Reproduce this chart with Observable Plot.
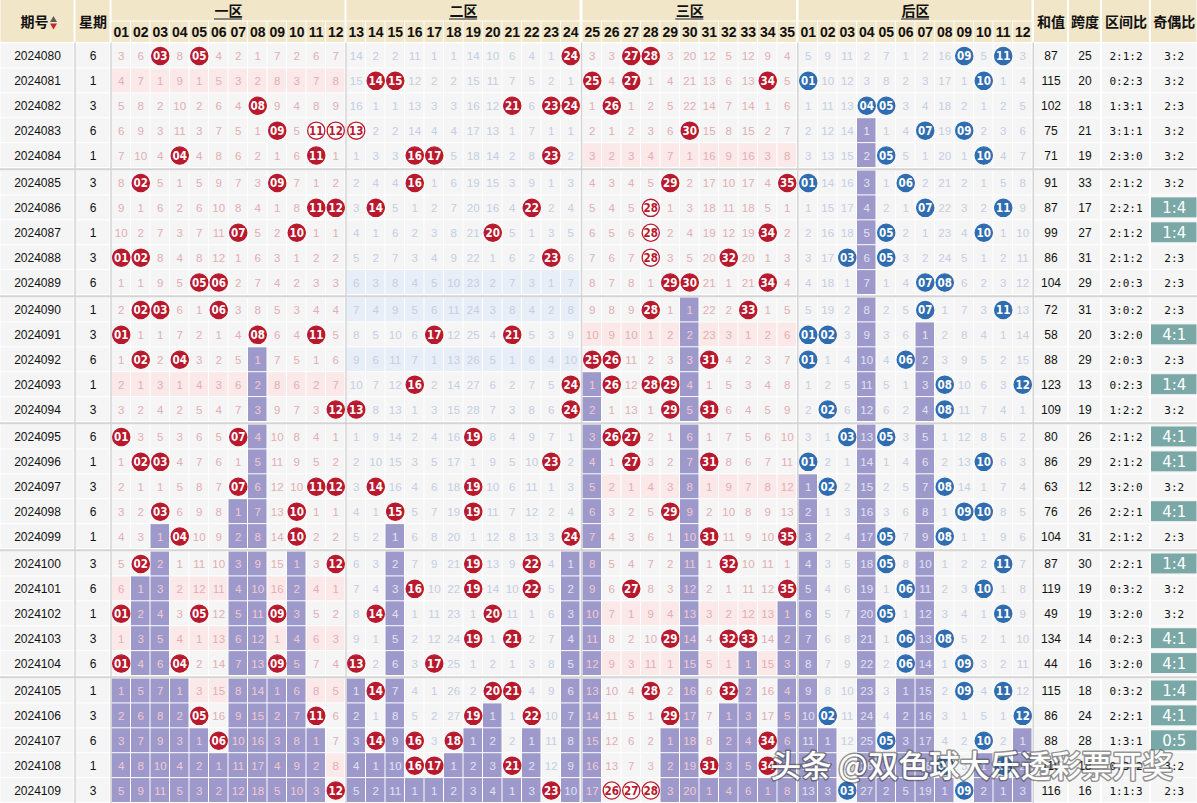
<!DOCTYPE html>
<html><head><meta charset="utf-8">
<script src="https://cdn.jsdelivr.net/npm/d3@7"></script>
<script src="https://cdn.jsdelivr.net/npm/@observablehq/plot@0.6"></script>
<style>
html,body{margin:0;padding:0;background:#fff;}
#chart{width:1197px;height:803px;overflow:hidden;}
</style></head>
<body><div id="chart"></div>
<script>
// ---------------- DATA ----------------
const issues = ["2024080","2024081","2024082","2024083","2024084","2024085","2024086","2024087","2024088","2024089",
  "2024090","2024091","2024092","2024093","2024094","2024095","2024096","2024097","2024098","2024099",
  "2024100","2024101","2024102","2024103","2024104","2024105","2024106","2024107","2024108","2024109"];
const weekdays = [6,1,3,6,1, 3,6,1,3,6, 1,3,6,1,3, 6,1,3,6,1, 3,6,1,3,6, 1,3,6,1,3];
const frontDraws = [
  [3,5,24,27,28],[14,15,25,27,34],[8,21,23,24,26],[9,11,12,13,30],[4,11,16,17,23],
  [2,9,16,29,35],[11,12,14,22,28],[7,10,20,28,34],[1,2,23,28,32],[5,6,29,30,34],
  [2,3,6,28,33],[1,8,11,17,21],[2,4,25,26,31],[16,24,26,28,29],[12,13,24,29,31],
  [1,7,19,26,27],[2,3,23,27,31],[7,11,12,14,19],[3,10,15,19,29],[4,10,24,31,35],
  [2,12,19,22,32],[16,19,22,27,35],[1,5,9,14,20],[19,21,29,32,33],[1,4,9,13,17],
  [14,20,21,28,32],[5,11,19,22,29],[6,14,16,18,34],[16,17,21,31,34],[12,23,26,27,28]];
const backDraws = [
  [9,11],[1,10],[4,5],[7,9],[5,10],
  [1,6],[7,11],[5,10],[3,5],[7,8],
  [7,11],[1,2],[1,6],[8,12],[2,8],
  [3,5],[1,10],[2,8],[9,10],[5,8],
  [5,11],[6,10],[5,11],[6,8],[6,9],
  [9,11],[2,12],[5,10],[8,11],[3,9]];
// omission values shown in the first row (2024080); 0 = drawn in that issue
const frontFirstOmission = [3,6,0,8,0,4,2,1,7,2,6,7, 14,2,2,11,1,1,14,10,6,4,1,0, 3,3,0,0,3,20,12,5,12,9,4];
const backFirstOmission = [5,9,11,2,7,1,2,16,0,5,0,3];
const sums = [87,115,102,75,71, 91,87,99,86,104, 72,58,88,123,109, 80,86,63,76,104, 87,119,49,134,44, 115,86,88,119,116];
const spans = [25,20,18,21,19, 33,17,27,31,29, 31,20,29,13,19, 26,29,12,26,31, 30,19,19,14,16, 18,24,28,18,16];
const zoneRatios = ["2:1:2","0:2:3","1:3:1","3:1:1","2:3:0","2:1:2","2:2:1","2:1:2","2:1:2","2:0:3",
  "3:0:2","3:2:0","2:0:3","0:2:3","1:2:2","2:1:2","2:1:2","3:2:0","2:2:1","2:1:2",
  "2:2:1","0:3:2","3:2:0","0:2:3","3:2:0","0:3:2","2:2:1","1:3:1","0:3:2","1:1:3"];
const oddEven = ["3:2","3:2","2:3","3:2","3:2","3:2","1:4","1:4","2:3","2:3",
  "2:3","4:1","2:3","1:4","3:2","4:1","4:1","3:2","4:1","2:3",
  "1:4","3:2","3:2","4:1","4:1","1:4","4:1","0:5","3:2","2:3"];
const frontLabels = ["01","02","03","04","05","06","07","08","09","10","11","12",
  "13","14","15","16","17","18","19","20","21","22","23","24",
  "25","26","27","28","29","30","31","32","33","34","35"];
const backLabels = ["01","02","03","04","05","06","07","08","09","10","11","12"];
const zoneNames = ["一区","二区","三区","后区"];
const headLeft = ["期号","星期"];
const headRight = ["和值","跨度","区间比","奇偶比"];
const extremeOddEven = ["0:5","1:4","4:1","5:0"];
const watermark = "头条 @双色球大乐透彩票开奖";

// ---------------- LAYOUT / STYLE (not data) ----------------
const W = 1197, H = 803;
const CW = 19.5, RH = 24.9, GAP = 2.5, TOP = 43;
const zoneX0 = [111, 346, 582, 798];
const zoneLen = [12, 12, 11, 12];
const leftCols = [[0, 74], [75, 110]];
const rightCols = [[1033.5, 1067.5], [1068.5, 1100.5], [1101.5, 1149.5], [1150.5, 1197]];
const C = {cell:"#f5f5f5", head:"#f1e6c8", purple:"#9d9acb", pinkZ:"#fbe9e9", blueZ:"#e8eef7",
  red:"#b8192d", blue:"#2f6cb0", teal:"#7aa8a6", sep:"#d4d4d4",
  tPink:"#e2aeb2", tPinkP:"#f3c9d1", tBlue:"#c3cee2", tBlueP:"#e2e2f4"};
const NUMFONT = "'Liberation Sans', Arial, sans-serif";
const CJK = "'Noto Sans CJK SC', 'Noto Sans', sans-serif";

const rowTop = i => TOP + i * RH + Math.floor(i / 5) * GAP;
const zoneOf = n => n <= 12 ? 0 : n <= 24 ? 1 : 2;
const colX0 = (z, idx) => zoneX0[z] + idx * CW;

// omission matrices derived from the draws (chart logic: issues since last hit)
function omissionRows(draws, first) {
  const out = [first.slice()];
  for (let i = 1; i < draws.length; i++)
    out.push(out[i - 1].map((v, k) => draws[i].includes(k + 1) ? 0 : v + 1));
  return out;
}
const frontOm = omissionRows(frontDraws, frontFirstOmission);
const backOm = omissionRows(backDraws, backFirstOmission);
const lastHit = (draws, n) => { let l = -1; draws.forEach((d, i) => { if (d.includes(n)) l = i; }); return l; };
function hollow(draws, i, n) {
  let a = n, b = n; const d = draws[i];
  while (d.includes(a - 1)) a--; while (d.includes(b + 1)) b++;
  if (b - a + 1 >= 3) return true;
  let u = i, v = i;
  while (u > 0 && draws[u - 1].includes(n)) u--; while (v < draws.length - 1 && draws[v + 1].includes(n)) v++;
  return v - u + 1 >= 3;
}

// ---------------- build mark tables ----------------
const cells = [], balls = [], omTexts = [];
issues.forEach((iss, i) => {
  const y1 = rowTop(i), y2 = y1 + RH, cy = y1 + RH / 2;
  const zc = [0, 0, 0]; frontDraws[i].forEach(n => zc[zoneOf(n)]++);
  const addCell = (x1, z, n, drawn, om, isBack, label, draws) => {
    const last = lastHit(draws, n);
    const purple = i > last;
    let fill = C.cell;
    if (purple) fill = C.purple;
    else if (!isBack && zc[z] === 0) fill = z === 1 ? C.blueZ : C.pinkZ;
    cells.push({x1: x1 + 0.5, x2: x1 + CW - 0.5, y1: y1 + 0.5, y2: y2 - 0.5, fill});
    const cx = x1 + CW / 2;
    if (drawn) {
      const h = hollow(draws, i, n);
      const col = isBack ? C.blue : C.red;
      balls.push({x: cx, y: cy, label, fill: h ? "#ffffff" : col, stroke: col, text: h ? col : "#ffffff"});
    } else {
      const blueText = isBack || z === 1;
      omTexts.push({x: cx, y: cy + 0.5, t: String(om),
        fill: blueText ? (purple ? C.tBlueP : C.tBlue) : (purple ? C.tPinkP : C.tPink)});
    }
  };
  for (let k = 0; k < 35; k++) {
    const n = k + 1, z = zoneOf(n), idx = z === 0 ? k : z === 1 ? k - 12 : k - 24;
    addCell(colX0(z, idx), z, n, frontDraws[i].includes(n), frontOm[i][k], false, frontLabels[k], frontDraws);
  }
  for (let k = 0; k < 12; k++) {
    const n = k + 1;
    addCell(colX0(3, k), 3, n, backDraws[i].includes(n), backOm[i][k], true, backLabels[k], backDraws);
  }
  [...leftCols, ...rightCols].forEach(([a, b]) => cells.push({x1: a + 0.5, x2: b - 0.5, y1: y1 + 0.5, y2: y2 - 0.5, fill: C.cell}));
});

const rowInfo = issues.map((iss, i) => ({i, iss, cy: rowTop(i) + RH / 2 + 0.5,
  y1: rowTop(i), wk: String(weekdays[i]), sum: String(sums[i]), span: String(spans[i]),
  zr: zoneRatios[i], oe: oddEven[i], ext: extremeOddEven.includes(oddEven[i])}));

// header
const headRects = [], headTexts = [], zoneTexts = [];
leftCols.forEach(([a, b]) => { headRects.push({x1: a + 0.5, x2: b - 0.5, y1: 0, y2: 42}); });
rightCols.forEach(([a, b], j) => { headRects.push({x1: a + 0.5, x2: b - 0.5, y1: 0, y2: 42});
  headTexts.push({x: (a + b) / 2, y: 22, t: headRight[j]}); });
zoneNames.forEach((nm, z) => {
  const a = zoneX0[z], b = a + zoneLen[z] * CW;
  headRects.push({x1: a + 0.5, x2: b - 0.5, y1: 0, y2: 20.5});
  zoneTexts.push({x: (a + b) / 2, y: 11, t: nm, u1: (a + b) / 2 - 14, u2: (a + b) / 2 + 14});
});
const numHeads = [];
frontLabels.forEach((lab, k) => { const z = zoneOf(k + 1), idx = z === 0 ? k : z === 1 ? k - 12 : k - 24;
  const x = colX0(z, idx); headRects.push({x1: x + 0.5, x2: x + CW - 0.5, y1: 21.5, y2: 42});
  numHeads.push({x: x + CW / 2, y: 32.5, t: lab}); });
backLabels.forEach((lab, k) => { const x = colX0(3, k); headRects.push({x1: x + 0.5, x2: x + CW - 0.5, y1: 21.5, y2: 42});
  numHeads.push({x: x + CW / 2, y: 32.5, t: lab}); });

const vSeps = [74.5, 110.5, 345.5, 581, 797.25, 1032.75];
const hSeps = [1, 2, 3, 4, 5].map(g => rowTop(g * 5) - GAP / 2);

const plot = Plot.plot({
  width: W, height: H, margin: 0,
  x: {domain: [0, W], range: [0, W], axis: null},
  y: {domain: [0, H], range: [0, H], axis: null},
  color: {type: "identity"},
  style: {background: "#ffffff"},
  marks: [
    Plot.rect(headRects, {x1: "x1", x2: "x2", y1: "y1", y2: "y2", fill: C.head}),
    Plot.rect(cells, {x1: "x1", x2: "x2", y1: "y1", y2: "y2", fill: "fill"}),
    Plot.ruleX(vSeps, {x: d => d, y1: 42.5, y2: H, stroke: C.sep, strokeWidth: 1.5}),
    Plot.ruleY(hSeps, {y: d => d, x1: 0, x2: W, stroke: C.sep, strokeWidth: 2}),
    // teal highlight for extreme odd:even
    Plot.rect(rowInfo.filter(d => d.ext), {x1: rightCols[3][0] + 0.5, x2: rightCols[3][1] - 0.5,
      y1: d => d.y1 + 2.5, y2: d => d.y1 + RH - 2.5, fill: C.teal}),
    // header texts
    Plot.text([{x: 34, y: 22, t: headLeft[0]}, {x: 92.5, y: 22, t: headLeft[1]}],
      {x: "x", y: "y", text: "t", fontSize: 14, fontWeight: "bold", fontFamily: CJK, fill: "#111"}),
    Plot.dot([{x: 53, y: 19.5}], {x: "x", y: "y", symbol: "triangle", r: 2.6, fill: "#5a5a5a", stroke: null}),
    Plot.dot([{x: 53, y: 25}], {x: "x", y: "y", symbol: "triangle", r: 2.6, rotate: 180, fill: "#c9252c", stroke: null}),
    Plot.text(headTexts, {x: "x", y: "y", text: "t", fontSize: 14, fontWeight: "bold", fontFamily: CJK, fill: "#111"}),
    Plot.text(zoneTexts, {x: "x", y: "y", text: "t", fontSize: 14, fontWeight: "bold", fontFamily: CJK, fill: "#111"}),
    Plot.ruleY(zoneTexts, {y: 18.5, x1: "u1", x2: "u2", stroke: "#222", strokeWidth: 1}),
    Plot.text(numHeads, {x: "x", y: "y", text: "t", fontSize: 14, fontWeight: "bold", fontFamily: NUMFONT, fill: "#111"}),
    // omission numbers
    Plot.text(omTexts, {x: "x", y: "y", text: "t", fill: "fill", fontSize: 11.5, fontFamily: NUMFONT}),
    // balls
    Plot.dot(balls, {x: "x", y: "y", r: 8.6, fill: "fill", stroke: "stroke", strokeWidth: 1.3}),
    Plot.text(balls, {x: "x", y: "y", dy: 0.5, text: "label", fill: "text", fontSize: 11.5, fontWeight: "bold",
      fontFamily: "'Liberation Sans Narrow', 'DejaVu Sans Condensed', 'Liberation Sans', sans-serif"}),
    // left columns
    Plot.text(rowInfo, {x: 37, y: "cy", text: "iss", fontSize: 12, fontFamily: NUMFONT, fill: "#111"}),
    Plot.text(rowInfo, {x: 92.5, y: "cy", text: "wk", fontSize: 12, fontFamily: NUMFONT, fill: "#111"}),
    // right columns
    Plot.text(rowInfo, {x: (rightCols[0][0] + rightCols[0][1]) / 2, y: "cy", text: "sum", fontSize: 12, fontFamily: NUMFONT, fill: "#111"}),
    Plot.text(rowInfo, {x: (rightCols[1][0] + rightCols[1][1]) / 2, y: "cy", text: "span", fontSize: 12, fontFamily: NUMFONT, fill: "#111"}),
    Plot.text(rowInfo, {x: (rightCols[2][0] + rightCols[2][1]) / 2, y: "cy", text: "zr", fontSize: 11, fontFamily: "'DejaVu Sans Mono', monospace", fill: "#111"}),
    Plot.text(rowInfo.filter(d => !d.ext), {x: (rightCols[3][0] + rightCols[3][1]) / 2, y: "cy", text: "oe", fontSize: 11, fontFamily: "'DejaVu Sans Mono', monospace", fill: "#111"}),
    Plot.text(rowInfo.filter(d => d.ext), {x: (rightCols[3][0] + rightCols[3][1]) / 2, y: "cy", text: "oe", fontSize: 15, fontFamily: "'DejaVu Sans', sans-serif", fill: "#ffffff"}),
    // watermark
    Plot.text([watermark], {x: 770, y: 767, text: d => d, textAnchor: "start", fontSize: 30.5, fontWeight: 500,
      fontFamily: CJK, fill: "#ffffff", stroke: "#3a3a3a", strokeWidth: 3, strokeOpacity: 0.55})
  ]
});
document.getElementById("chart").appendChild(plot);
</script>
</body></html>
